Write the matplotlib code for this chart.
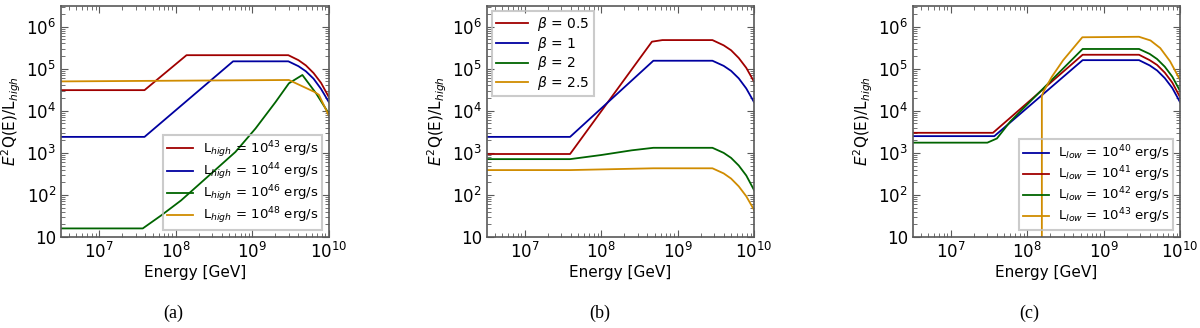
# Spettri E^2 Q(E) / L_high per tre scelte di parametri: (a) L_high, (b) beta, (c) L_low
import numpy as np
import matplotlib
matplotlib.use("Agg")
import matplotlib.pyplot as plt
from matplotlib.ticker import FuncFormatter, NullFormatter, LogLocator

# ---- pannello (a): variazione di L_high ----
a_labels = [r"L$_{high}$ = 10$^{43}$ erg/s", r"L$_{high}$ = 10$^{44}$ erg/s",
            r"L$_{high}$ = 10$^{46}$ erg/s", r"L$_{high}$ = 10$^{48}$ erg/s"]
a_red_E = [3.16e6, 3.9e7, 1.38e8, 2.95e9, 4.0e9, 5.0e9, 6.3e9, 7.9e9, 1e10]
a_red_Q = [3.1e4, 3.1e4, 2.1e5, 2.1e5, 1.6e5, 1.2e5, 7.9e4, 4.6e4, 2.1e4]
a_blue_E = [3.16e6, 3.9e7, 5.6e8, 2.95e9, 4.0e9, 5.0e9, 6.3e9, 7.9e9, 1e10]
a_blue_Q = [2.4e3, 2.4e3, 1.5e5, 1.5e5, 1.15e5, 8.7e4, 5.8e4, 3.3e4, 1.6e4]
a_green_E = [3.16e6, 3.7e7, 6.5e7, 1.17e8, 2.6e8, 6.0e8, 1.1e9, 2.0e9, 3.0e9, 4.5e9, 6.8e9, 1e10]
a_green_Q = [16, 16, 33, 74, 270, 1.05e3, 3.8e3, 1.6e4, 4.5e4, 7.1e4, 2.6e4, 8.5e3]
a_orange_E = [3.16e6, 3.0e9, 6.5e9, 7.4e9, 1e10]
a_orange_Q = [5.0e4, 5.4e4, 2.8e4, 2.4e4, 7.6e3]

# ---- pannello (b): variazione di beta ----
b_labels = [r"$\beta$ = 0.5", r"$\beta$ = 1", r"$\beta$ = 2", r"$\beta$ = 2.5"]
b_red_E = [3.16e6, 3.9e7, 4.6e8, 6.3e8, 2.85e9, 4.0e9, 5.0e9, 6.3e9, 7.9e9, 1e10]
b_red_Q = [9.4e2, 9.4e2, 4.4e5, 4.8e5, 4.8e5, 3.6e5, 2.75e5, 1.8e5, 1.05e5, 4.9e4]
b_blue_E = [3.16e6, 3.9e7, 4.8e8, 2.85e9, 4.0e9, 5.0e9, 6.3e9, 7.9e9, 1e10]
b_blue_Q = [2.4e3, 2.4e3, 1.55e5, 1.55e5, 1.17e5, 8.9e4, 5.9e4, 3.4e4, 1.6e4]
b_green_E = [3.16e6, 3.9e7, 1e8, 2.5e8, 4.8e8, 2.85e9, 4.0e9, 5.0e9, 6.3e9, 7.9e9, 1e10]
b_green_Q = [710, 710, 890, 1.15e3, 1.32e3, 1.32e3, 1.0e3, 760, 500, 290, 130]
b_orange_E = [3.16e6, 3.9e7, 4.8e8, 2.85e9, 4.0e9, 5.0e9, 6.3e9, 7.9e9, 1e10]
b_orange_Q = [390, 390, 430, 430, 325, 245, 160, 93, 44]

# ---- pannello (c): variazione di L_low ----
c_labels = [r"L$_{low}$ = 10$^{40}$ erg/s", r"L$_{low}$ = 10$^{41}$ erg/s",
            r"L$_{low}$ = 10$^{42}$ erg/s", r"L$_{low}$ = 10$^{43}$ erg/s"]
c_blue_E = [3.16e6, 3.7e7, 5.3e8, 2.9e9, 4.0e9, 5.0e9, 6.3e9, 7.9e9, 1e10]
c_blue_Q = [2.5e3, 2.5e3, 1.6e5, 1.6e5, 1.2e5, 9.1e4, 6.0e4, 3.5e4, 1.6e4]
c_red_E = [3.16e6, 3.55e7, 5.3e8, 2.9e9, 4.0e9, 5.0e9, 6.3e9, 7.9e9, 1e10]
c_red_Q = [3.0e3, 3.0e3, 2.15e5, 2.15e5, 1.6e5, 1.23e5, 8.1e4, 4.7e4, 2.1e4]
c_green_E = [3.16e6, 3.0e7, 4.0e7, 6.0e7, 5.3e8, 2.9e9, 4.0e9, 5.0e9, 6.3e9, 7.9e9, 1e10]
c_green_Q = [1.75e3, 1.75e3, 2.2e3, 5.6e3, 2.95e5, 2.95e5, 2.25e5, 1.7e5, 1.12e5, 6.5e4, 2.95e4]
c_orange_E = [1.55e8, 1.55e8, 1.62e8, 2.1e8, 2.95e8, 4.0e8, 5.25e8, 2.9e9, 4.1e9, 5.5e9, 7.4e9, 1e10]
c_orange_Q = [1e-3, 2.2e4, 2.8e4, 6.5e4, 1.6e5, 3.1e5, 5.6e5, 5.75e5, 4.7e5, 3.1e5, 1.5e5, 5.4e4]

RED, BLUE, GREEN, ORANGE = "#a00000", "#0000a0", "#006400", "#d08c00"

plt.rcParams["font.family"] = "DejaVu Sans"
plt.rcParams["mathtext.fontset"] = "dejavusans"


def fmt_pow(v, pos):
    e = int(round(np.log10(v)))
    if e == 1:
        return "10"
    return r"$10^{%d}$" % e


def setup_axis(ax):
    ax.set_xscale("log")
    ax.set_yscale("log")
    ax.set_xlim(3.16e6, 1e10)
    ax.set_ylim(10, 3.1e6)
    ax.xaxis.set_major_locator(LogLocator(base=10, numticks=10))
    ax.yaxis.set_major_locator(LogLocator(base=10, numticks=10))
    ax.xaxis.set_major_formatter(FuncFormatter(fmt_pow))
    ax.yaxis.set_major_formatter(FuncFormatter(fmt_pow))
    ax.xaxis.set_minor_formatter(NullFormatter())
    ax.yaxis.set_minor_formatter(NullFormatter())
    ax.tick_params(which="both", direction="in", top=True, right=True,
                   labelsize=12, colors="0.35", labelcolor="black")
    ax.tick_params(which="major", length=5, width=0.8)
    ax.tick_params(which="minor", length=3, width=0.6)
    for s in ax.spines.values():
        s.set_color("0.35")
        s.set_linewidth(1.2)
    ax.set_xlabel("Energy [GeV]", fontsize=11, labelpad=2)
    ax.set_ylabel(r"$E^2$Q(E)/L$_{high}$", fontsize=11, labelpad=2)


fig = plt.figure(figsize=(12, 3.28), dpi=100)
bottom, height = 0.2774, 0.7043
ax_a = fig.add_axes([0.0508, bottom, 0.2233, height])
ax_b = fig.add_axes([0.4056, bottom, 0.2228, height])
ax_c = fig.add_axes([0.7606, bottom, 0.2228, height])

lw = 1.3
leg_kw = dict(fontsize=9.5, fancybox=False, facecolor="none", edgecolor="0.75",
              handlelength=2.0, handletextpad=0.7, labelspacing=0.12,
              borderaxespad=0.5, borderpad=0.3)

# (a)
ax_a.plot(a_red_E, a_red_Q, color=RED, lw=lw, label=a_labels[0])
ax_a.plot(a_blue_E, a_blue_Q, color=BLUE, lw=lw, label=a_labels[1])
ax_a.plot(a_green_E, a_green_Q, color=GREEN, lw=lw, label=a_labels[2])
ax_a.plot(a_orange_E, a_orange_Q, color=ORANGE, lw=lw, label=a_labels[3])
setup_axis(ax_a)
lg = ax_a.legend(loc="lower right", **leg_kw)
lg.get_frame().set_linewidth(1.5)

# (b)
ax_b.plot(b_red_E, b_red_Q, color=RED, lw=lw, label=b_labels[0])
ax_b.plot(b_blue_E, b_blue_Q, color=BLUE, lw=lw, label=b_labels[1])
ax_b.plot(b_green_E, b_green_Q, color=GREEN, lw=lw, label=b_labels[2])
ax_b.plot(b_orange_E, b_orange_Q, color=ORANGE, lw=lw, label=b_labels[3])
setup_axis(ax_b)
lg = ax_b.legend(loc="upper left", **dict(leg_kw, borderaxespad=0.35, fontsize=10,
                                            handlelength=2.3))
lg.get_frame().set_linewidth(1.5)

# (c)
ax_c.plot(c_blue_E, c_blue_Q, color=BLUE, lw=lw, label=c_labels[0])
ax_c.plot(c_red_E, c_red_Q, color=RED, lw=lw, label=c_labels[1])
ax_c.plot(c_green_E, c_green_Q, color=GREEN, lw=lw, label=c_labels[2])
ax_c.plot(c_orange_E, c_orange_Q, color=ORANGE, lw=lw, label=c_labels[3])
setup_axis(ax_c)
lg = ax_c.legend(loc="lower right", **leg_kw)
lg.get_frame().set_linewidth(1.5)

# didascalie
for xc, txt in [(0.144, "(a)"), (0.5, "(b)"), (0.858, "(c)")]:
    fig.text(xc, 0.045, txt, ha="center", va="center", fontsize=13,
             family="Liberation Serif")

fig.savefig("out.png", dpi=100)
